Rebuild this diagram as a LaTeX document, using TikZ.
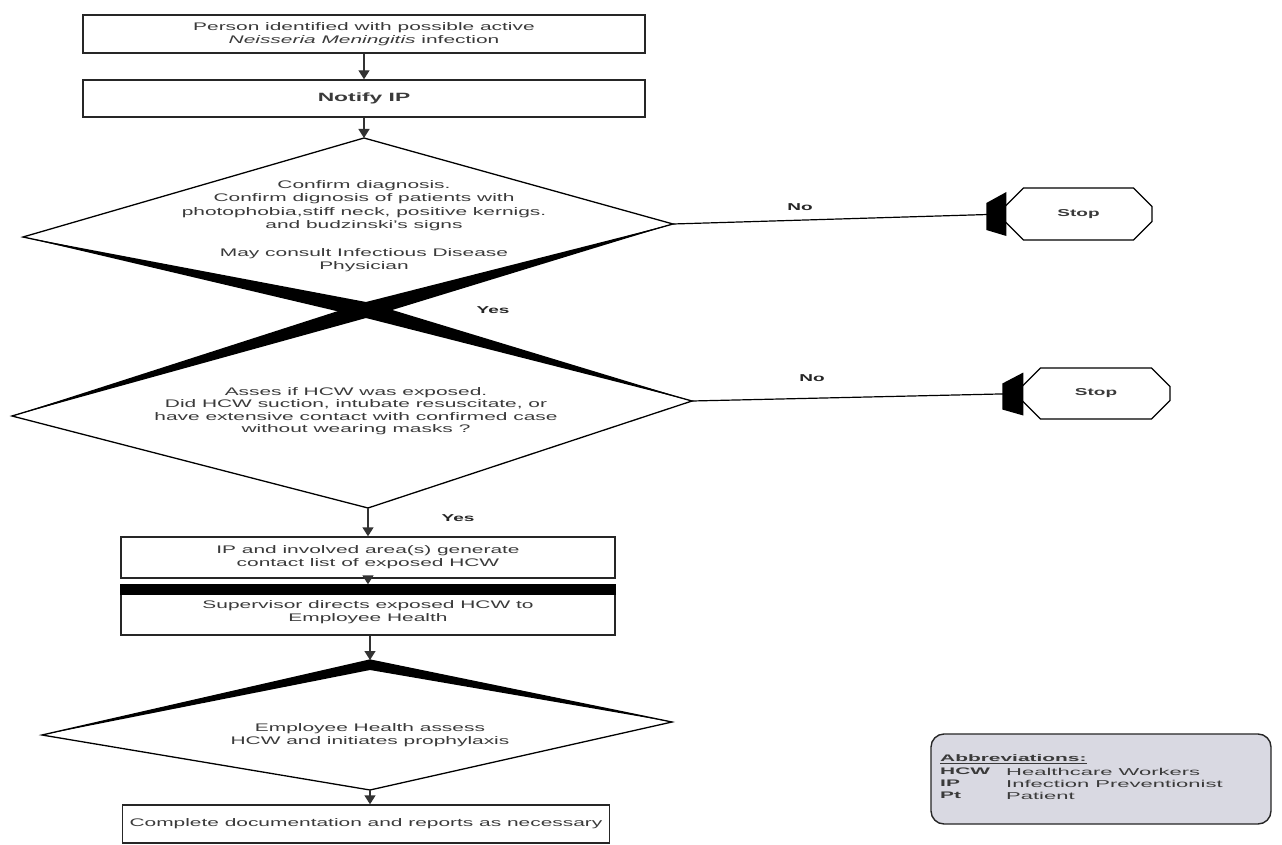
\documentclass[tikz,border=0pt]{standalone}
\usepackage{fontspec}
\setmainfont{Liberation Sans}[FakeStretch=1.9]
\newfontfamily\abbrfont{Liberation Sans}[FakeStretch=2.2]
\usetikzlibrary{arrows.meta,shapes.misc,calc}
\definecolor{txt}{HTML}{3A3A3A}
\definecolor{abbrfill}{HTML}{D9D9E2}
\tikzset{
 box/.style={draw=black!85,line width=1.4pt,fill=white,inner sep=0pt,align=center,text=txt,font=\fontsize{11}{13}\selectfont},
 dtext/.style={align=center,text=txt,font=\fontsize{11}{13.5}\selectfont,inner sep=0pt},
 arr/.style={line width=1.4pt,draw=black!80,-{Triangle[width=11pt,length=9pt]}},
 dedge/.style={line width=1.3pt,draw=black},
 lbl/.style={font=\bfseries\fontsize{10}{12}\selectfont,text=black!85,inner sep=0pt},
 stopbox/.style={chamfered rectangle,chamfered rectangle xsep=19pt,chamfered rectangle ysep=14pt,draw=black,line width=1.3pt,fill=white,inner sep=0pt,font=\bfseries\fontsize{10}{12}\selectfont,text=txt},
 abbrtxt/.style={anchor=west,inner sep=0pt,text=txt,font=\abbrfont\fontsize{10}{12}\selectfont},
 abbrkey/.style={abbrtxt,font=\abbrfont\bfseries\fontsize{9.5}{12}\selectfont},
}
\begin{document}
\begin{tikzpicture}[x=1pt,y=-1pt]
\useasboundingbox (0,0) rectangle (1282,845);
\fill[white] (0,0) rectangle (1282,845);

% coordinates of decision shapes
\coordinate (d1t) at (364,138);
\coordinate (d1l) at (23,237);
\coordinate (d1r) at (673,224);
\coordinate (d1b) at (366,310);
\coordinate (d2l) at (12,416);
\coordinate (d2r) at (692,401);
\coordinate (d2b) at (368,508);
\coordinate (d3t) at (370,660);
\coordinate (d3l) at (42,735);
\coordinate (d3r) at (672,722);
\coordinate (d3b) at (370,790);

% boxes
\node[box,minimum width=562,minimum height=38] (b1) at (364,34)
  {Person identified with possible active\\\textit{Neisseria Meningitis} infection};
\node[box,minimum width=562,minimum height=37,font=\bfseries\fontsize{12}{14}\selectfont] (b2) at (364,98.5) {Notify IP};
\node[box,minimum width=494,minimum height=41] (b3) at (368,557.5)
  {IP and involved area(s) generate\\contact list of exposed HCW};
\node[box,minimum width=494,minimum height=50] (b4) at (368,610)
  {\\[-1pt]Supervisor directs exposed HCW to\\Employee Health};
\fill (b4.north west) rectangle ($(b4.north east)+(0,11)$);
\node[box,minimum width=487,minimum height=38] (b5) at (366,824)
  {Complete documentation and reports as necessary};

% decision 1
\draw[dedge] (d1t) -- (d1r) -- (d1b) -- (d1l) -- cycle;
\fill (d1l) -- ($(d1b)+(0,-8)$) -- ($(d1b)+(0,8)$) -- cycle;
\fill (d1r) -- ($(d1b)+(0,-8)$) -- ($(d1b)+(0,8)$) -- cycle;
\node[dtext] (t1) at (364,226)
  {Confirm diagnosis.\\Confirm dignosis of patients with\\photophobia,stiff neck, positive kernigs.\\and budzinski's signs\\[14pt]May consult Infectious Disease\\Physician};

% decision 2
\draw[dedge] (d1b) -- (d2r) -- (d2b) -- (d2l) -- cycle;
\fill (d2l) -- ($(d1b)+(0,-8)$) -- ($(d1b)+(0,8)$) -- cycle;
\fill (d2r) -- ($(d1b)+(0,-8)$) -- ($(d1b)+(0,8)$) -- cycle;
\node[dtext,font=\fontsize{11}{12.5}\selectfont] (t2) at (356,411)
  {Asses if HCW was exposed.\\Did HCW suction, intubate resuscitate, or\\have extensive contact with confirmed case\\without wearing masks ?};

% decision 3
\draw[dedge] (d3t) -- (d3r) -- (d3b) -- (d3l) -- cycle;
\fill (d3l) -- (d3t) -- ($(d3t)+(0,10)$) -- cycle;
\fill (d3r) -- (d3t) -- ($(d3t)+(0,10)$) -- cycle;
\node[dtext] (t3) at (370,735)
  {Employee Health assess\\HCW and initiates prophylaxis};

% stops
\node[stopbox,minimum width=147,minimum height=52] (s1) at (1078.5,214) {Stop};
\node[stopbox,minimum width=148,minimum height=51] (s2) at (1096,393.5) {Stop};

\draw[dedge,line width=1.2pt] (d1r) -- (s1.west);
\draw[dedge,line width=1.2pt] (d2r) -- (s2.west);
\fill ($(s1.west)+(-18,-11)$) -- ($(s1.west)+(2,-22)$) -- ($(s1.west)+(2,22)$) -- ($(s1.west)+(-18,16)$) -- cycle;
\fill ($(s2.west)+(-19,-10)$) -- ($(s2.west)+(2,-21)$) -- ($(s2.west)+(2,22)$) -- ($(s2.west)+(-19,16)$) -- cycle;

\node[lbl] (no1) at (800,207) {No};
\node[lbl] (no2) at (812,378) {No};
\node[lbl] (yes1) at (493,310) {Yes};
\node[lbl] (yes2) at (458,518) {Yes};

% arrows
\draw[arr] (b1) -- (b2);
\draw[arr] (b2) -- (d1t);
\draw[arr] (d2b) -- (d2b |- b3.north);
\draw[arr] (b3) -- (b4);
\draw[arr] (b4.south -| d3t) -- (d3t);
\draw[arr] (d3b) -- (d3b |- b5.north);

% abbreviations
\node[draw=black!85,line width=1.4pt,fill=abbrfill,rounded corners=13pt,minimum width=340,minimum height=90,inner sep=0pt] (ab) at (1101,779) {};
\node[abbrkey] (abh) at (940,759) {\underline{Abbreviations:}};
\node[abbrkey] (ab1) at (940,771.5) {HCW};
\node[abbrkey] (ab2) at (940,783.5) {IP};
\node[abbrkey] (ab3) at (940,795.5) {Pt};
\node[abbrtxt] (ad1) at (1006,771.5) {Healthcare Workers};
\node[abbrtxt] (ad2) at (1006,783.5) {Infection Preventionist};
\node[abbrtxt] (ad3) at (1006,795.5) {Patient};
\end{tikzpicture}
\end{document}
